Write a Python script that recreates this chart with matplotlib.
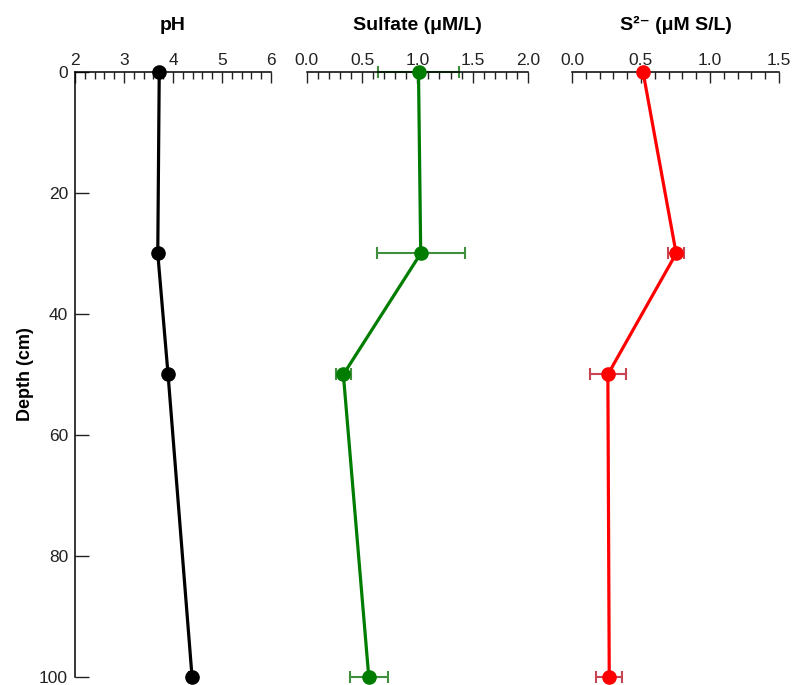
import matplotlib.pyplot as plt
from matplotlib.ticker import MultipleLocator

plt.rcParams['font.family'] = ['Liberation Sans', 'DejaVu Sans']

depth = [0, 30, 50, 100]

ph = [3.72, 3.69, 3.90, 4.39]
ph_err = [0.0, 0.0, 0.03, 0.06]

sulfate = [1.01, 1.03, 0.33, 0.56]
sulfate_err = [0.37, 0.40, 0.065, 0.17]

sulfide = [0.515, 0.755, 0.26, 0.27]
sulfide_err = [0.0, 0.06, 0.13, 0.095]

fig = plt.figure(figsize=(7.93, 6.85), dpi=100)

panels = [
    # left, width, values, errors, line colour, errbar colour, xlim, major, minor, title
    (0.0946, 0.247, ph, ph_err, 'black', 'black', (2, 6), 1, 0.2, 'pH'),
    (0.387, 0.2787, sulfate, sulfate_err, '#007d00', '#3f8f3f', (0, 2), 0.5, 0.1,
     'Sulfate (\u03bcM/L)'),
    (0.7213, 0.261, sulfide, sulfide_err, '#ff0000', '#c84452', (0, 1.5), 0.5, 0.1,
     'S\u00b2\u207b (\u03bcM S/L)'),
]

for i, (left, width, vals, errs, col, ecol, xlim, major, minor, title) in enumerate(panels):
    ax = fig.add_axes([left, 0.0117, width, 0.8832])
    ax.errorbar(vals, depth, xerr=errs, fmt='none', ecolor=ecol, elinewidth=1.5,
                capsize=4, capthick=1.5, clip_on=False, zorder=2)
    ax.plot(vals, depth, '-o', color=col, lw=2.3, ms=9.5, clip_on=False, zorder=3)

    ax.set_xlim(*xlim)
    ax.set_ylim(100, 0)
    ax.xaxis.set_major_locator(MultipleLocator(major))
    ax.xaxis.set_minor_locator(MultipleLocator(minor))
    ax.xaxis.tick_top()
    if major < 1:
        ax.xaxis.set_major_formatter(plt.FormatStrFormatter('%.1f'))
    ax.tick_params(axis='x', which='major', direction='in', length=8, width=1,
                   labelsize=12.5, pad=3, colors='#222222')
    ax.tick_params(axis='x', which='minor', direction='in', length=5, width=1,
                   colors='#222222')

    ax.spines['right'].set_visible(False)
    ax.spines['bottom'].set_visible(False)
    ax.spines['top'].set_linewidth(1.1)
    ax.set_title(title, fontsize=14, fontweight='bold', pad=30)

    if i == 0:
        ax.yaxis.set_major_locator(MultipleLocator(20))
        ax.tick_params(axis='y', direction='in', length=10, width=1,
                       labelsize=12.5, pad=5, colors='#222222')
        ax.spines['left'].set_linewidth(1.1)
        ax.set_ylabel('Depth (cm)', fontsize=13, fontweight='bold', labelpad=4)
    else:
        ax.spines['left'].set_visible(False)
        ax.set_yticks([])

fig.savefig('out.png', dpi=100)
